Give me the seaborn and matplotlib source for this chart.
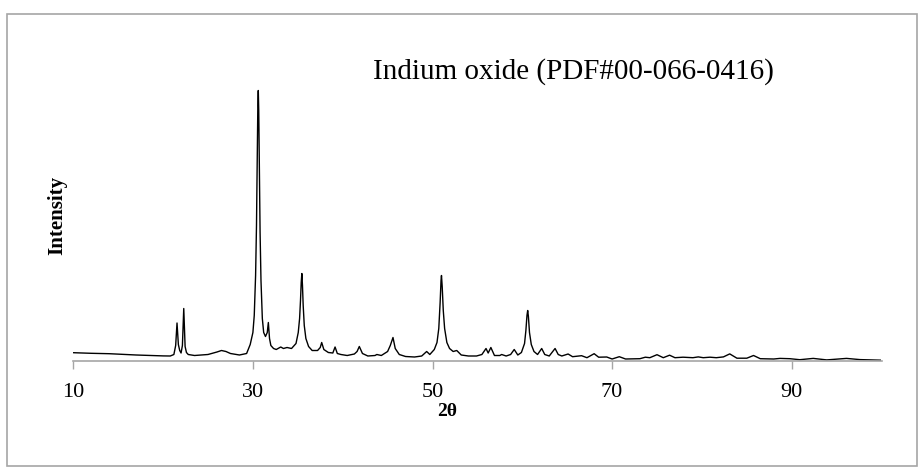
import matplotlib
matplotlib.use("Agg")
import matplotlib.pyplot as plt
import seaborn as sns
import pandas as pd
from matplotlib.patches import Rectangle

# ---- data (2theta in degrees, intensity in arbitrary units) ----
two_theta = [
    10.0, 12.0, 14.0, 17.0, 20.0, 20.8, 21.2, 21.4, 21.55, 21.7, 21.85, 22.0, 22.15, 22.3,
    22.45, 22.6, 22.8, 23.5, 25.0, 26.0, 26.5, 27.0, 27.5, 28.5, 29.3, 29.7, 30.0, 30.15,
    30.3, 30.4, 30.45, 30.5, 30.55, 30.6, 30.65, 30.7, 30.75, 30.8, 30.9, 31.05, 31.2, 31.4,
    31.6, 31.72, 31.85, 32.0, 32.3, 32.6, 33.1, 33.4, 33.8, 34.3, 34.8, 35.05, 35.2, 35.3,
    35.38, 35.45, 35.52, 35.6, 35.72, 35.9, 36.2, 36.6, 37.2, 37.5, 37.66, 37.9, 38.4, 38.9,
    39.15, 39.4, 39.8, 40.5, 41.3, 41.6, 41.85, 42.2, 42.8, 43.6, 43.8, 44.3, 45.0, 45.3,
    45.6, 45.85, 46.3, 47.0, 48.0, 48.8, 49.35, 49.7, 50.2, 50.5, 50.7, 50.85, 50.95, 51.0,
    51.08, 51.2, 51.35, 51.6, 51.9, 52.3, 52.7, 53.2, 54.0, 54.9, 55.5, 55.96, 56.2, 56.5,
    56.9, 57.5, 57.7, 58.2, 58.7, 59.1, 59.5, 59.9, 60.25, 60.4, 60.52, 60.6, 60.68, 60.8,
    61.0, 61.3, 61.7, 62.16, 62.5, 63.0, 63.65, 64.0, 64.4, 65.1, 65.6, 66.6, 67.2, 68.0,
    68.5, 69.4, 70.0, 70.8, 71.5, 73.1, 73.7, 74.2, 75.0, 75.7, 76.4, 77.0, 77.9, 79.0,
    79.6, 80.15, 80.9, 81.6, 82.4, 83.1, 83.9, 85.0, 85.75, 86.5, 88.0, 88.7, 89.8, 90.9,
    92.4, 93.9, 96.1, 97.6, 100.0,
]
intensity = [
    7.8, 7.2, 6.8, 5.5, 4.6, 4.5, 6.0, 15.0, 37.5, 16.0, 10.0, 7.5, 15.0, 52.0,
    14.0, 8.0, 6.0, 5.0, 6.0, 8.5, 10.0, 9.0, 7.0, 5.5, 7.0, 16.0, 28.0, 45.0,
    85.0, 135.0, 173.0, 216.0, 255.0, 270.0, 250.0, 206.0, 162.0, 128.0, 80.0, 42.0, 28.0, 24.0,
    28.0, 38.0, 22.0, 15.0, 12.0, 11.0, 13.5, 12.0, 13.0, 12.0, 17.0, 28.0, 42.0, 60.0,
    78.0, 87.0, 75.0, 55.0, 35.0, 22.0, 14.0, 10.0, 10.0, 13.0, 18.0, 11.0, 8.0, 7.5,
    13.5, 7.0, 6.0, 5.0, 6.5, 9.0, 14.0, 7.0, 4.5, 5.0, 6.0, 5.0, 9.0, 15.0,
    23.0, 12.0, 6.0, 4.0, 3.5, 4.5, 9.0, 6.0, 11.0, 18.0, 32.0, 58.0, 80.0, 85.0,
    74.0, 50.0, 32.0, 18.0, 12.0, 9.0, 10.0, 5.5, 4.5, 4.5, 6.0, 12.0, 7.5, 13.0,
    5.0, 5.0, 6.0, 4.5, 6.0, 11.0, 5.5, 8.0, 17.0, 30.0, 45.0, 50.0, 44.0, 28.0,
    16.0, 9.0, 6.0, 12.0, 6.0, 4.5, 12.0, 6.0, 4.5, 6.5, 3.8, 4.8, 2.8, 6.8,
    3.3, 3.5, 1.5, 3.8, 1.5, 1.8, 3.3, 2.8, 5.8, 2.8, 5.3, 2.8, 3.3, 2.8,
    3.6, 2.8, 3.3, 2.8, 3.6, 6.6, 2.3, 2.3, 5.0, 1.8, 1.5, 2.1, 1.8, 0.8,
    2.1, 0.6, 2.1, 0.9, 0.3,
]
x_ticks = [10, 30, 50, 70, 90]
x_label = "2θ"
y_label = "Intensity"
annotation = "Indium oxide (PDF#00-066-0416)"

df = pd.DataFrame({"two_theta": two_theta, "intensity": intensity})

sns.set_theme(style="white")
plt.rcParams["font.family"] = ["Liberation Serif", "DejaVu Serif"]
plt.rcParams["text.color"] = "black"
plt.rcParams["xtick.labelcolor"] = "black"

W, H = 920, 470
fig = plt.figure(figsize=(W / 100, H / 100), dpi=100)
fig.patch.set_facecolor("white")

# outer chart border
fig.patches.append(Rectangle((7 / W, 1 - 466 / H), (917 - 7) / W, (466 - 14) / H,
                             transform=fig.transFigure, fill=False,
                             edgecolor="#a6a6a6", linewidth=1.2))

ax_left, ax_right = 73.3, 881.5
ax_top, ax_bottom = 60.0, 360.5
ax = fig.add_axes([ax_left / W, 1 - ax_bottom / H, (ax_right - ax_left) / W, (ax_bottom - ax_top) / H])

sns.lineplot(data=df, x="two_theta", y="intensity", ax=ax, color="black",
             linewidth=1.0, estimator=None, sort=False)

ax.set_xlim(10, 100)
ax.set_ylim(0, ax_bottom - ax_top)
ax.set_xticks(x_ticks)
ax.set_xticklabels([str(t) for t in x_ticks], fontsize=16, color="black")
ax.set_yticks([])
for s in ["top", "right", "left"]:
    ax.spines[s].set_visible(False)
ax.spines["bottom"].set_color("#a6a6a6")
ax.spines["bottom"].set_linewidth(1.2)
ax.tick_params(axis="x", direction="out", length=6, width=1.0, color="#a6a6a6",
               pad=10, bottom=True)
ax.set_xlabel("")
ax.set_ylabel("")
ax.set_facecolor("white")
ax.grid(False)

fig.text(447 / W, 1 - 411 / H, x_label, ha="center", va="center",
         fontsize=14, fontweight="bold", color="black")
fig.text(57 / W, 1 - 215 / H, y_label, ha="center", va="center", rotation=90,
         fontsize=15, fontweight="bold", color="black")
fig.text(373 / W, 1 - 72 / H, annotation, ha="left", va="center", fontsize=21,
         color="black")

fig.savefig("out.png", dpi=100)
